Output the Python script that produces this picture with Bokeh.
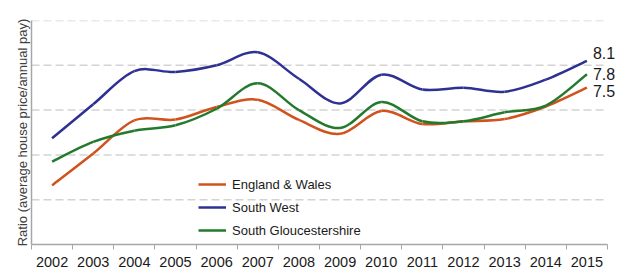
from bokeh.plotting import figure
from bokeh.models import ColumnDataSource, FixedTicker, Range1d, Label, Legend, LegendItem
from bokeh.embed import file_html
from bokeh.resources import INLINE

years = [2002, 2003, 2004, 2005, 2006, 2007, 2008, 2009, 2010, 2011, 2012, 2013, 2014, 2015]
england_wales = [5.32, 6.03, 6.77, 6.79, 7.07, 7.23, 6.78, 6.47, 6.98, 6.69, 6.75, 6.80, 7.08, 7.5]
south_west = [6.37, 7.13, 7.87, 7.85, 8.00, 8.29, 7.70, 7.15, 7.79, 7.46, 7.50, 7.41, 7.68, 8.1]
south_glos = [5.85, 6.29, 6.54, 6.66, 7.03, 7.60, 7.00, 6.60, 7.18, 6.75, 6.75, 6.95, 7.10, 7.8]
series_names = ["England & Wales", "South West", "South Gloucestershire"]
grid_values = [5, 6, 7, 8, 9]
colors = ["#D0521C", "#2E3192", "#237A2D"]
end_label_offsets = [-3, 8, 0]
y_title = "Ratio (average house price/annual pay)"

def bezier_source(xs, ys):
    n = len(xs)
    d = dict(x0=[], y0=[], x1=[], y1=[], cx0=[], cy0=[], cx1=[], cy1=[])
    for i in range(n - 1):
        pm = max(i - 1, 0)
        pp = min(i + 2, n - 1)
        d["x0"].append(xs[i]); d["y0"].append(ys[i])
        d["x1"].append(xs[i + 1]); d["y1"].append(ys[i + 1])
        d["cx0"].append(xs[i] + (xs[i + 1] - xs[pm]) / 6)
        d["cy0"].append(ys[i] + (ys[i + 1] - ys[pm]) / 6)
        d["cx1"].append(xs[i + 1] - (xs[pp] - xs[i]) / 6)
        d["cy1"].append(ys[i + 1] - (ys[pp] - ys[i]) / 6)
    return ColumnDataSource(d)

W, H = 620, 269
LEFT = 31
n_years = len(years)
axis_px = 576.0  # pixel length of the category axis
x_start = years[0] - 0.5
x_end = x_start + (W - LEFT) * n_years / axis_px

p = figure(width=W, height=H, output_backend="svg", toolbar_location=None,
           x_range=Range1d(x_start, x_end), y_range=Range1d(4, 9),
           min_border_left=LEFT, min_border_right=0, min_border_top=20, min_border_bottom=25)
p.outline_line_color = None
p.background_fill_color = "white"
p.border_fill_color = "white"

# x axis
p.xaxis.bounds = (years[0] - 0.5, years[-1] + 0.5)
p.xaxis.ticker = FixedTicker(ticks=years, minor_ticks=[y - 0.5 for y in years] + [years[-1] + 0.5])
p.xaxis.major_tick_out = 0
p.xaxis.major_tick_in = 0
p.xaxis.minor_tick_out = 5
p.xaxis.minor_tick_in = 0
p.xaxis.minor_tick_line_color = "#A6A6A6"
p.xaxis.axis_line_color = "#A6A6A6"
p.xaxis.axis_line_width = 1.5
p.xaxis.major_label_text_font = "Liberation Sans"
p.xaxis.major_label_text_font_size = "14.5px"
p.xaxis.major_label_text_color = "#1a1a1a"
p.xaxis.major_label_standoff = 7
p.xgrid.grid_line_color = None
p.ygrid.grid_line_color = None

# y axis
p.yaxis.ticker = FixedTicker(ticks=grid_values)
p.yaxis.major_label_text_font_size = "0px"
p.yaxis.major_tick_out = 0
p.yaxis.major_tick_in = 0
p.yaxis.minor_tick_out = 0
p.yaxis.axis_line_color = "#A6A6A6"
p.yaxis.axis_line_width = 1.5
p.yaxis.axis_label = y_title
p.yaxis.axis_label_text_font = "Liberation Sans"
p.yaxis.axis_label_text_font_size = "13px"
p.yaxis.axis_label_text_font_style = "normal"
p.yaxis.axis_label_text_color = "#404040"
p.yaxis.axis_label_standoff = 2

# dashed horizontal gridlines, limited to the category axis extent
p.segment(x0=[years[0] - 0.5] * len(grid_values), x1=[years[-1] + 0.5] * len(grid_values),
          y0=grid_values, y1=grid_values, line_color="#D3D3D3", line_width=1.5, line_dash="8 4")

items = []
for name, vals, col, off in zip(series_names, [england_wales, south_west, south_glos], colors, end_label_offsets):
    src = bezier_source(years, vals)
    r = p.bezier(x0="x0", y0="y0", x1="x1", y1="y1", cx0="cx0", cy0="cy0", cx1="cx1", cy1="cy1",
                 source=src, line_color=col, line_width=2.5)
    items.append(LegendItem(label=name, renderers=[r]))
    p.add_layout(Label(x=years[-1], y=vals[-1], text=f"{vals[-1]:.1f}", x_offset=6, y_offset=off,
                       text_baseline="middle", text_font="Liberation Sans", text_font_size="16px",
                       text_color="#1a1a1a"))

legend = Legend(items=items, location=(167, 4), orientation="vertical")
legend.background_fill_alpha = 0
legend.border_line_color = None
legend.label_text_font = "Liberation Sans"
legend.label_text_font_size = "13px"
legend.label_text_color = "#1a1a1a"
legend.glyph_width = 28
legend.glyph_height = 20
legend.label_height = 20
legend.spacing = 3
legend.padding = 0
legend.margin = 0
legend.label_standoff = 6
p.add_layout(legend)

open("out.html", "w").write(file_html(p, INLINE))
